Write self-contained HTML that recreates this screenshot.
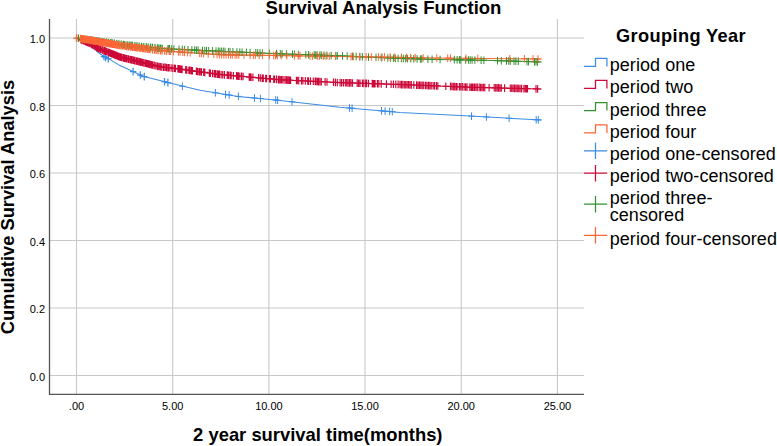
<!DOCTYPE html>
<html><head><meta charset="utf-8"><style>
html,body{margin:0;padding:0;background:#fff;}
body{width:777px;height:446px;overflow:hidden;}
svg{display:block;font-family:"Liberation Sans",sans-serif;}
text{fill:#000;}
</style></head><body>
<svg width="777" height="446" viewBox="0 0 777 446">
<line x1="49" y1="375.5" x2="584" y2="375.5" stroke="#c8c8c8" stroke-width="1.1"/>
<line x1="49" y1="308.0" x2="584" y2="308.0" stroke="#c8c8c8" stroke-width="1.1"/>
<line x1="49" y1="240.5" x2="584" y2="240.5" stroke="#c8c8c8" stroke-width="1.1"/>
<line x1="49" y1="173.0" x2="584" y2="173.0" stroke="#c8c8c8" stroke-width="1.1"/>
<line x1="49" y1="105.5" x2="584" y2="105.5" stroke="#c8c8c8" stroke-width="1.1"/>
<line x1="49" y1="38.0" x2="584" y2="38.0" stroke="#c8c8c8" stroke-width="1.1"/>
<line x1="76.5" y1="19" x2="76.5" y2="394" stroke="#c8c8c8" stroke-width="1.1"/>
<line x1="172.7" y1="19" x2="172.7" y2="394" stroke="#c8c8c8" stroke-width="1.1"/>
<line x1="268.9" y1="19" x2="268.9" y2="394" stroke="#c8c8c8" stroke-width="1.1"/>
<line x1="365.0" y1="19" x2="365.0" y2="394" stroke="#c8c8c8" stroke-width="1.1"/>
<line x1="461.2" y1="19" x2="461.2" y2="394" stroke="#c8c8c8" stroke-width="1.1"/>
<line x1="557.4" y1="19" x2="557.4" y2="394" stroke="#c8c8c8" stroke-width="1.1"/>
<line x1="49.5" y1="19" x2="49.5" y2="394.9" stroke="#555555" stroke-width="1.3"/>
<line x1="49" y1="394.3" x2="584" y2="394.3" stroke="#555555" stroke-width="1.3"/>
<text x="45" y="380.9" font-size="11" font-weight="normal" text-anchor="end" >0.0</text>
<text x="45" y="313.4" font-size="11" font-weight="normal" text-anchor="end" >0.2</text>
<text x="45" y="245.9" font-size="11" font-weight="normal" text-anchor="end" >0.4</text>
<text x="45" y="178.4" font-size="11" font-weight="normal" text-anchor="end" >0.6</text>
<text x="45" y="110.9" font-size="11" font-weight="normal" text-anchor="end" >0.8</text>
<text x="45" y="43.4" font-size="11" font-weight="normal" text-anchor="end" >1.0</text>
<text x="76.5" y="409.6" font-size="11" font-weight="normal" text-anchor="middle" >.00</text>
<text x="172.7" y="409.6" font-size="11" font-weight="normal" text-anchor="middle" >5.00</text>
<text x="268.9" y="409.6" font-size="11" font-weight="normal" text-anchor="middle" >10.00</text>
<text x="365.0" y="409.6" font-size="11" font-weight="normal" text-anchor="middle" >15.00</text>
<text x="461.2" y="409.6" font-size="11" font-weight="normal" text-anchor="middle" >20.00</text>
<text x="557.4" y="409.6" font-size="11" font-weight="normal" text-anchor="middle" >25.00</text>
<text x="383.5" y="14" font-size="18.5" font-weight="bold" text-anchor="middle" >Survival Analysis Function</text>
<text x="317.8" y="441" font-size="18.4" font-weight="bold" text-anchor="middle" >2 year survival time(months)</text>
<text x="13.5" y="207" font-size="18.3" font-weight="bold" text-anchor="middle" transform="rotate(-90 13.5 207)">Cumulative Survival Analysis</text>
<path d="M100.8 56.5h6.4M102.4 57.4h6.4M105.1 58.7h6.4M129.9 71.6h6.4M137.1 75.0h6.4M141.1 76.6h6.4M161.3 81.7h6.4M164.7 82.6h6.4" stroke="#3b8ce4" stroke-width="1.25" fill="none"/><path d="M179.2 86.2h6.4M212.2 92.8h6.4M222.3 94.5h6.4M226.0 95.0h6.4M235.2 96.4h6.4M251.3 98.0h6.4M257.2 98.5h6.4M272.5 100.0h6.4M274.4 100.2h6.4M288.8 101.8h6.4M346.3 108.0h6.4M348.9 108.2h6.4M378.3 110.8h6.4M381.9 111.1h6.4M386.4 111.5h6.4M389.1 111.7h6.4M468.3 116.2h6.4M483.2 117.0h6.4M505.9 118.3h6.4M533.0 119.8h6.4M535.1 119.9h6.4" stroke="#3b8ce4" stroke-width="1.0" fill="none"/>
<path d="M77.8 39.8h6.4M78.7 40.1h6.4M80.2 40.7h6.4M81.6 41.3h6.4M82.6 41.7h6.4M83.8 42.1h6.4M85.0 42.6h6.4M86.3 43.1h6.4M87.7 43.8h6.4M88.6 44.4h6.4M89.5 44.9h6.4M90.9 45.8h6.4M92.0 46.5h6.4M93.4 47.4h6.4M94.3 47.9h6.4M95.4 48.5h6.4M96.8 49.0h6.4M97.8 49.4h6.4M99.3 50.0h6.4M100.8 50.6h6.4M101.7 50.9h6.4M102.5 51.3h6.4M103.8 51.8h6.4M105.3 52.4h6.4M106.4 52.8h6.4M107.4 53.2h6.4M108.5 53.7h6.4M109.4 54.0h6.4M110.4 54.4h6.4M111.5 54.9h6.4M112.7 55.4h6.4M113.8 55.8h6.4M114.8 56.2h6.4M115.8 56.6h6.4M116.9 57.0h6.4M118.0 57.3h6.4M118.8 57.5h6.4M120.3 57.9h6.4M121.5 58.2h6.4M122.8 58.5h6.4M123.8 58.7h6.4M125.3 59.1h6.4M126.8 59.5h6.4M127.7 59.7h6.4M128.8 59.9h6.4M130.2 60.3h6.4M131.5 60.6h6.4M133.0 61.0h6.4M134.2 61.3h6.4M135.6 61.6h6.4M136.9 61.9h6.4M138.0 62.2h6.4M139.3 62.5h6.4M140.7 62.9h6.4M142.2 63.2h6.4M143.4 63.5h6.4M144.7 63.8h6.4M145.5 64.0h6.4M146.5 64.3h6.4M146.8 64.4h6.4M148.2 64.7h6.4M149.4 65.0h6.4M151.0 65.4h6.4M152.7 65.8h6.4M154.3 66.2h6.4M155.7 66.5h6.4M157.1 66.8h6.4M158.7 67.0h6.4M160.4 67.2h6.4M161.9 67.3h6.4M163.3 67.5h6.4M164.8 67.7h6.4M165.9 67.8h6.4" stroke="#cc0838" stroke-width="1.25" fill="none"/><path d="M167.9 68.0h6.4M169.6 68.2h6.4M171.3 68.3h6.4M172.2 68.5h6.4M174.7 68.8h6.4M175.8 68.9h6.4M176.9 69.1h6.4M178.0 69.2h6.4M178.9 69.4h6.4M182.5 69.9h6.4M183.6 70.0h6.4M185.7 70.3h6.4M186.8 70.4h6.4M188.1 70.6h6.4M189.2 70.8h6.4M193.2 71.3h6.4M194.3 71.5h6.4M195.8 71.7h6.4M196.9 71.8h6.4M198.2 72.0h6.4M200.5 72.3h6.4M201.6 72.4h6.4M206.1 73.0h6.4M207.2 73.2h6.4M209.4 73.5h6.4M211.1 73.7h6.4M212.3 73.9h6.4M213.9 74.1h6.4M215.1 74.3h6.4M216.2 74.4h6.4M217.9 74.6h6.4M219.5 74.7h6.4M221.2 74.9h6.4M224.0 75.1h6.4M225.2 75.2h6.4M226.8 75.4h6.4M228.0 75.5h6.4M230.2 75.7h6.4M233.3 75.9h6.4M234.2 76.0h6.4M235.2 76.1h6.4M236.6 76.2h6.4M238.4 76.4h6.4M239.9 76.5h6.4M246.0 77.0h6.4M246.9 77.1h6.4M247.9 77.2h6.4M249.7 77.4h6.4M255.4 77.8h6.4M257.1 78.0h6.4M259.0 78.2h6.4M260.1 78.3h6.4M262.5 78.5h6.4M263.4 78.5h6.4M266.2 78.8h6.4M267.2 78.9h6.4M270.5 79.2h6.4M271.4 79.2h6.4M273.3 79.4h6.4M275.2 79.6h6.4M276.1 79.6h6.4M277.5 79.7h6.4M278.5 79.8h6.4M279.9 79.8h6.4M281.8 79.9h6.4M283.2 80.0h6.4M284.1 80.1h6.4M285.5 80.1h6.4M286.5 80.2h6.4M287.4 80.2h6.4M293.2 80.5h6.4M294.1 80.5h6.4M295.5 80.6h6.4M298.3 80.7h6.4M299.7 80.8h6.4M302.1 80.9h6.4M304.5 81.0h6.4M305.4 81.1h6.4M307.3 81.2h6.4M310.1 81.3h6.4M312.0 81.4h6.4M312.9 81.4h6.4M314.3 81.5h6.4M315.3 81.6h6.4M316.7 81.6h6.4M318.1 81.7h6.4M321.9 81.9h6.4M323.8 82.0h6.4M330.3 82.3h6.4M332.2 82.4h6.4M334.1 82.5h6.4M336.9 82.6h6.4M338.4 82.7h6.4M340.2 82.7h6.4M342.1 82.8h6.4M343.5 82.8h6.4M344.9 82.9h6.4M346.4 82.9h6.4M347.8 82.9h6.4M349.3 83.0h6.4M354.0 83.1h6.4M355.4 83.2h6.4M356.8 83.2h6.4M359.2 83.3h6.4M360.6 83.4h6.4M362.5 83.4h6.4M363.4 83.4h6.4M365.3 83.5h6.4M369.0 83.6h6.4M370.0 83.7h6.4M370.9 83.7h6.4M371.9 83.7h6.4M374.2 83.8h6.4M375.6 83.8h6.4M378.0 83.9h6.4M383.2 84.1h6.4M387.9 84.2h6.4M390.2 84.3h6.4M392.6 84.4h6.4M394.9 84.4h6.4M396.8 84.5h6.4M398.2 84.6h6.4M399.6 84.6h6.4M401.1 84.7h6.4M402.5 84.7h6.4M403.9 84.8h6.4M405.3 84.8h6.4M406.7 84.9h6.4M408.1 84.9h6.4M410.6 85.0h6.4M413.4 85.1h6.4M414.8 85.2h6.4M416.2 85.2h6.4M417.6 85.3h6.4M419.0 85.4h6.4M420.5 85.4h6.4M422.3 85.5h6.4M423.7 85.5h6.4M425.2 85.6h6.4M426.6 85.6h6.4M428.0 85.7h6.4M429.9 85.8h6.4M431.3 85.8h6.4M433.2 85.9h6.4M434.6 86.0h6.4M442.6 86.3h6.4M447.3 86.4h6.4M448.7 86.5h6.4M450.1 86.6h6.4M451.5 86.6h6.4M452.9 86.7h6.4M453.9 86.7h6.4M456.2 86.8h6.4M457.6 86.8h6.4M459.1 86.9h6.4M460.9 87.0h6.4M462.4 87.0h6.4M463.8 87.1h6.4M466.6 87.2h6.4M468.0 87.2h6.4M468.9 87.3h6.4M469.9 87.3h6.4M471.3 87.3h6.4M472.7 87.3h6.4M474.1 87.4h6.4M476.0 87.4h6.4M477.4 87.5h6.4M478.8 87.5h6.4M480.2 87.5h6.4M481.6 87.6h6.4M485.9 87.7h6.4M491.0 87.8h6.4M492.5 87.9h6.4M493.9 87.9h6.4M495.3 87.9h6.4M496.7 88.0h6.4M498.1 88.0h6.4M501.4 88.1h6.4M507.1 88.3h6.4M508.5 88.3h6.4M509.9 88.3h6.4M511.3 88.4h6.4M512.7 88.4h6.4M514.1 88.4h6.4M515.5 88.5h6.4M516.9 88.5h6.4M518.4 88.6h6.4M520.7 88.6h6.4M522.1 88.7h6.4M523.3 88.7h6.4M524.3 88.7h6.4M532.8 88.9h6.4M534.4 89.0h6.4" stroke="#cc0838" stroke-width="1.15" fill="none"/>
<path d="M75.2 38.3h6.4M77.8 38.7h6.4M79.5 38.9h6.4M81.5 39.2h6.4M83.4 39.5h6.4M85.5 39.8h6.4M87.7 40.1h6.4M89.1 40.3h6.4M90.5 40.5h6.4M93.0 40.9h6.4M94.7 41.1h6.4M96.3 41.3h6.4M98.9 41.7h6.4M100.9 42.0h6.4M103.3 42.3h6.4M105.3 42.6h6.4M107.5 42.9h6.4M109.0 43.1h6.4M111.2 43.4h6.4M113.6 43.8h6.4M115.7 44.0h6.4M118.0 44.3h6.4M120.2 44.6h6.4M121.6 44.7h6.4M124.0 45.0h6.4M126.0 45.2h6.4M127.8 45.4h6.4M129.2 45.5h6.4M131.7 45.8h6.4M133.7 46.0h6.4M135.9 46.2h6.4M138.4 46.5h6.4M140.6 46.7h6.4M143.1 47.0h6.4M145.0 47.2h6.4M147.4 47.4h6.4M149.3 47.6h6.4M151.8 47.9h6.4M154.3 48.1h6.4M155.8 48.3h6.4M157.4 48.4h6.4M159.0 48.5h6.4M164.8 48.8h6.4M166.2 48.9h6.4" stroke="#33922f" stroke-width="1.25" fill="none"/><path d="M168.5 49.0h6.4M170.7 49.1h6.4M175.8 49.3h6.4M179.1 49.5h6.4M181.4 49.6h6.4M184.8 49.8h6.4M188.7 49.9h6.4M191.5 50.1h6.4M193.2 50.2h6.4M194.9 50.2h6.4M199.3 50.5h6.4M201.6 50.6h6.4M203.3 50.6h6.4M205.5 50.8h6.4M209.4 50.9h6.4M212.8 51.1h6.4M215.1 51.2h6.4M216.7 51.3h6.4M218.4 51.4h6.4M220.1 51.4h6.4M221.8 51.5h6.4M225.2 51.6h6.4M226.8 51.7h6.4M229.7 51.8h6.4M233.7 52.0h6.4M236.6 52.1h6.4M238.9 52.2h6.4M243.2 52.4h6.4M246.9 52.6h6.4M252.6 52.8h6.4M254.5 52.9h6.4M256.8 53.0h6.4M259.2 53.1h6.4M266.2 53.4h6.4M273.3 53.7h6.4M277.1 53.8h6.4M278.9 53.9h6.4M283.2 54.0h6.4M289.3 54.2h6.4M291.3 54.3h6.4M295.5 54.5h6.4M302.6 54.7h6.4M305.4 54.8h6.4M311.0 55.0h6.4M312.5 55.0h6.4M313.9 55.1h6.4M316.7 55.1h6.4M318.1 55.2h6.4M320.9 55.3h6.4M323.8 55.4h6.4M328.0 55.5h6.4M332.7 55.7h6.4M334.1 55.7h6.4M339.3 55.9h6.4M344.0 56.1h6.4M349.2 56.3h6.4M353.0 56.5h6.4M356.8 56.7h6.4M359.2 56.8h6.4M365.3 57.1h6.4M372.8 57.4h6.4M378.0 57.7h6.4M384.6 58.0h6.4M387.4 58.1h6.4M390.2 58.2h6.4M392.1 58.3h6.4M394.9 58.4h6.4M398.2 58.5h6.4M400.1 58.5h6.4M402.5 58.6h6.4M404.4 58.6h6.4M407.7 58.7h6.4M410.6 58.8h6.4M413.9 58.9h6.4M417.2 59.0h6.4M418.6 59.0h6.4M424.7 59.2h6.4M428.9 59.3h6.4M436.9 59.5h6.4M451.1 59.7h6.4M453.9 59.8h6.4M456.2 59.8h6.4M457.6 59.9h6.4M462.4 60.0h6.4M465.2 60.0h6.4M467.0 60.0h6.4M468.9 60.1h6.4M471.7 60.1h6.4M477.9 60.2h6.4M480.7 60.3h6.4M494.3 60.7h6.4M498.1 60.8h6.4M503.3 60.9h6.4M505.6 61.0h6.4M507.1 61.1h6.4M510.8 61.2h6.4M512.7 61.2h6.4M515.1 61.3h6.4M523.8 61.6h6.4M525.3 61.6h6.4M531.3 61.8h6.4M532.8 61.8h6.4M534.3 61.9h6.4" stroke="#33922f" stroke-width="1.0" fill="none"/>
<path d="M73.3 38.0h6.4M77.2 38.6h6.4M78.5 38.8h6.4M79.9 39.0h6.4M80.6 39.1h6.4M81.4 39.3h6.4M82.7 39.5h6.4M83.9 39.6h6.4M85.0 39.8h6.4M86.0 40.0h6.4M87.1 40.2h6.4M88.2 40.4h6.4M89.3 40.6h6.4M90.1 40.7h6.4M91.1 40.9h6.4M92.1 41.1h6.4M93.3 41.3h6.4M94.7 41.5h6.4M96.0 41.8h6.4M97.1 42.0h6.4M98.1 42.1h6.4M99.0 42.3h6.4M99.8 42.4h6.4M100.5 42.6h6.4M101.5 42.8h6.4M102.5 42.9h6.4M103.5 43.1h6.4M104.8 43.3h6.4M105.8 43.5h6.4M106.9 43.7h6.4M107.8 43.9h6.4M108.5 44.0h6.4M109.5 44.2h6.4M110.3 44.3h6.4M111.4 44.5h6.4M112.7 44.8h6.4M113.9 45.0h6.4M114.7 45.1h6.4M114.8 45.1h6.4M116.3 45.4h6.4M117.8 45.6h6.4M119.4 45.8h6.4M120.9 46.0h6.4M122.5 46.2h6.4M123.6 46.4h6.4M125.3 46.6h6.4M127.0 46.8h6.4M128.0 46.9h6.4M129.5 47.1h6.4M131.0 47.3h6.4M132.3 47.5h6.4M133.6 47.6h6.4M134.9 47.8h6.4M136.5 48.0h6.4M137.8 48.2h6.4M139.4 48.4h6.4M140.6 48.5h6.4M142.2 48.7h6.4M143.8 48.9h6.4M145.0 49.1h6.4M146.4 49.3h6.4M146.8 49.3h6.4M149.2 49.6h6.4M151.3 49.9h6.4M153.0 50.1h6.4M154.9 50.4h6.4M157.2 50.6h6.4M158.9 50.7h6.4M161.5 50.9h6.4M163.4 51.0h6.4M166.0 51.2h6.4" stroke="#ff6535" stroke-width="1.25" fill="none"/><path d="M167.4 51.3h6.4M170.2 51.5h6.4M175.2 51.9h6.4M176.9 52.0h6.4M179.7 52.2h6.4M181.4 52.3h6.4M184.2 52.5h6.4M187.0 52.7h6.4M196.5 53.3h6.4M198.2 53.4h6.4M200.5 53.6h6.4M205.0 53.9h6.4M210.6 54.3h6.4M213.9 54.5h6.4M216.2 54.7h6.4M218.4 54.7h6.4M220.7 54.8h6.4M222.9 54.8h6.4M225.2 54.8h6.4M227.4 54.9h6.4M229.1 54.9h6.4M231.9 54.9h6.4M233.6 55.0h6.4M235.6 55.0h6.4M240.8 55.1h6.4M246.9 55.2h6.4M250.2 55.2h6.4M252.1 55.2h6.4M255.9 55.3h6.4M259.2 55.3h6.4M266.2 55.4h6.4M270.5 55.5h6.4M272.3 55.5h6.4M274.2 55.6h6.4M278.0 55.6h6.4M283.6 55.7h6.4M291.2 55.8h6.4M295.0 55.9h6.4M296.9 55.9h6.4M306.8 56.0h6.4M309.2 56.1h6.4M313.9 56.1h6.4M316.2 56.1h6.4M320.0 56.2h6.4M322.8 56.2h6.4M326.1 56.3h6.4M332.2 56.3h6.4M347.8 56.6h6.4M350.2 56.6h6.4M356.3 56.7h6.4M362.9 56.8h6.4M368.1 56.9h6.4M375.2 57.0h6.4M378.9 57.1h6.4M381.3 57.1h6.4M386.9 57.2h6.4M391.6 57.3h6.4M398.2 57.4h6.4M403.4 57.5h6.4M407.2 57.6h6.4M412.0 57.7h6.4M420.0 57.9h6.4M433.6 58.1h6.4M444.5 58.2h6.4M447.3 58.2h6.4M462.8 58.3h6.4M474.6 58.4h6.4M506.6 58.7h6.4M521.2 58.8h6.4M529.8 58.9h6.4M534.8 59.0h6.4" stroke="#ff6535" stroke-width="1.0" fill="none"/>
<polyline points="76.5,38.0 90.0,44.6 98.0,52.3 104.3,56.7 110.0,59.6 120.0,65.6 133.0,71.6 143.0,76.3 164.0,81.6 182.0,86.1 200.0,90.2 220.0,93.6 238.0,96.4 280.0,100.4 340.0,107.2 400.0,112.4 470.0,116.1 541.6,120.1" fill="none" stroke="#3b8ce4" stroke-width="1.05" stroke-linejoin="round"/>
<polyline points="76.5,38.0 90.0,43.3 98.0,48.2 120.0,57.0 142.0,62.4 160.0,66.8 175.0,68.4 220.0,74.5 280.0,79.7 340.0,82.6 400.0,84.5 470.0,87.2 490.0,87.7 541.6,89.1" fill="none" stroke="#cc0838" stroke-width="1.05" stroke-linejoin="round"/>
<polyline points="76.5,38.0 90.0,40.0 120.0,44.2 160.0,48.4 220.0,51.3 280.0,53.8 300.0,54.5 340.0,55.8 365.0,56.9 395.0,58.3 435.0,59.4 485.0,60.3 541.6,62.0" fill="none" stroke="#33922f" stroke-width="1.05" stroke-linejoin="round"/>
<polyline points="76.5,38.0 90.0,40.1 120.0,45.5 160.0,50.6 220.0,54.7 280.0,55.6 300.0,55.9 340.0,56.4 395.0,57.3 435.0,58.1 485.0,58.5 541.6,59.0" fill="none" stroke="#ff6535" stroke-width="1.05" stroke-linejoin="round"/>
<path d="M104.0 52.7v7.6M105.6 53.6v7.6M108.3 54.9v7.6M133.1 67.8v7.6M140.3 71.2v7.6M144.3 72.8v7.6M164.5 77.9v7.6M167.9 78.8v7.6" stroke="#3b8ce4" stroke-width="1.25" fill="none"/><path d="M182.4 82.4v7.6M215.4 89.0v7.6M225.5 90.7v7.6M229.2 91.2v7.6M238.4 92.6v7.6M254.5 94.2v7.6M260.4 94.7v7.6M275.7 96.2v7.6M277.6 96.4v7.6M292.0 98.0v7.6M349.5 104.2v7.6M352.1 104.4v7.6M381.5 107.0v7.6M385.1 107.3v7.6M389.6 107.7v7.6M392.3 107.9v7.6M471.5 112.4v7.6M486.4 113.2v7.6M509.1 114.5v7.6M536.2 116.0v7.6M538.3 116.1v7.6" stroke="#3b8ce4" stroke-width="1.0" fill="none"/>
<path d="M81.0 36.0v7.6M81.9 36.3v7.6M83.4 36.9v7.6M84.8 37.5v7.6M85.8 37.9v7.6M87.0 38.3v7.6M88.2 38.8v7.6M89.5 39.3v7.6M90.9 40.0v7.6M91.8 40.6v7.6M92.7 41.1v7.6M94.1 42.0v7.6M95.2 42.7v7.6M96.6 43.6v7.6M97.5 44.1v7.6M98.6 44.7v7.6M100.0 45.2v7.6M101.0 45.6v7.6M102.5 46.2v7.6M104.0 46.8v7.6M104.9 47.1v7.6M105.7 47.5v7.6M107.0 48.0v7.6M108.5 48.6v7.6M109.6 49.0v7.6M110.6 49.4v7.6M111.7 49.9v7.6M112.6 50.2v7.6M113.6 50.6v7.6M114.7 51.1v7.6M115.9 51.6v7.6M117.0 52.0v7.6M118.0 52.4v7.6M119.0 52.8v7.6M120.1 53.2v7.6M121.2 53.5v7.6M122.0 53.7v7.6M123.5 54.1v7.6M124.7 54.4v7.6M126.0 54.7v7.6M127.0 54.9v7.6M128.5 55.3v7.6M130.0 55.7v7.6M130.9 55.9v7.6M132.0 56.1v7.6M133.4 56.5v7.6M134.7 56.8v7.6M136.2 57.2v7.6M137.4 57.5v7.6M138.8 57.8v7.6M140.1 58.1v7.6M141.2 58.4v7.6M142.5 58.7v7.6M143.9 59.1v7.6M145.4 59.4v7.6M146.6 59.7v7.6M147.8 60.0v7.6M148.7 60.2v7.6M149.7 60.5v7.6M150.0 60.6v7.6M151.4 60.9v7.6M152.6 61.2v7.6M154.2 61.6v7.6M155.9 62.0v7.6M157.5 62.4v7.6M158.9 62.7v7.6M160.3 63.0v7.6M161.8 63.2v7.6M163.6 63.4v7.6M165.1 63.5v7.6M166.5 63.7v7.6M168.0 63.9v7.6M169.1 64.0v7.6" stroke="#cc0838" stroke-width="1.25" fill="none"/><path d="M171.1 64.2v7.6M172.8 64.4v7.6M174.5 64.5v7.6M175.4 64.7v7.6M177.9 65.0v7.6M179.0 65.1v7.6M180.1 65.3v7.6M181.2 65.4v7.6M182.1 65.6v7.6M185.7 66.1v7.6M186.8 66.2v7.6M188.9 66.5v7.6M190.0 66.6v7.6M191.3 66.8v7.6M192.4 67.0v7.6M196.4 67.5v7.6M197.5 67.7v7.6M199.0 67.9v7.6M200.1 68.0v7.6M201.4 68.2v7.6M203.7 68.5v7.6M204.8 68.6v7.6M209.3 69.2v7.6M210.4 69.4v7.6M212.6 69.7v7.6M214.3 69.9v7.6M215.5 70.1v7.6M217.1 70.3v7.6M218.3 70.5v7.6M219.4 70.6v7.6M221.1 70.8v7.6M222.7 70.9v7.6M224.4 71.1v7.6M227.2 71.3v7.6M228.4 71.4v7.6M230.0 71.6v7.6M231.2 71.7v7.6M233.4 71.9v7.6M236.5 72.1v7.6M237.4 72.2v7.6M238.4 72.3v7.6M239.8 72.4v7.6M241.6 72.6v7.6M243.1 72.7v7.6M249.2 73.2v7.6M250.1 73.3v7.6M251.1 73.4v7.6M252.9 73.6v7.6M258.6 74.0v7.6M260.3 74.2v7.6M262.2 74.4v7.6M263.3 74.5v7.6M265.7 74.7v7.6M266.6 74.7v7.6M269.4 75.0v7.6M270.4 75.1v7.6M273.7 75.4v7.6M274.6 75.4v7.6M276.5 75.6v7.6M278.4 75.8v7.6M279.3 75.8v7.6M280.7 75.9v7.6M281.7 76.0v7.6M283.1 76.0v7.6M285.0 76.1v7.6M286.4 76.2v7.6M287.3 76.3v7.6M288.7 76.3v7.6M289.7 76.4v7.6M290.6 76.4v7.6M296.4 76.7v7.6M297.3 76.7v7.6M298.7 76.8v7.6M301.5 76.9v7.6M302.9 77.0v7.6M305.3 77.1v7.6M307.7 77.2v7.6M308.6 77.3v7.6M310.5 77.4v7.6M313.3 77.5v7.6M315.2 77.6v7.6M316.1 77.6v7.6M317.5 77.7v7.6M318.5 77.8v7.6M319.9 77.8v7.6M321.3 77.9v7.6M325.1 78.1v7.6M327.0 78.2v7.6M333.5 78.5v7.6M335.4 78.6v7.6M337.3 78.7v7.6M340.1 78.8v7.6M341.6 78.9v7.6M343.4 78.9v7.6M345.3 79.0v7.6M346.7 79.0v7.6M348.1 79.1v7.6M349.6 79.1v7.6M351.0 79.1v7.6M352.5 79.2v7.6M357.2 79.3v7.6M358.6 79.4v7.6M360.0 79.4v7.6M362.4 79.5v7.6M363.8 79.6v7.6M365.7 79.6v7.6M366.6 79.6v7.6M368.5 79.7v7.6M372.2 79.8v7.6M373.2 79.9v7.6M374.1 79.9v7.6M375.1 79.9v7.6M377.4 80.0v7.6M378.8 80.0v7.6M381.2 80.1v7.6M386.4 80.3v7.6M391.1 80.4v7.6M393.4 80.5v7.6M395.8 80.6v7.6M398.1 80.6v7.6M400.0 80.7v7.6M401.4 80.8v7.6M402.8 80.8v7.6M404.3 80.9v7.6M405.7 80.9v7.6M407.1 81.0v7.6M408.5 81.0v7.6M409.9 81.1v7.6M411.3 81.1v7.6M413.8 81.2v7.6M416.6 81.3v7.6M418.0 81.4v7.6M419.4 81.4v7.6M420.8 81.5v7.6M422.2 81.6v7.6M423.7 81.6v7.6M425.5 81.7v7.6M426.9 81.7v7.6M428.4 81.8v7.6M429.8 81.8v7.6M431.2 81.9v7.6M433.1 82.0v7.6M434.5 82.0v7.6M436.4 82.1v7.6M437.8 82.2v7.6M445.8 82.5v7.6M450.5 82.6v7.6M451.9 82.7v7.6M453.3 82.8v7.6M454.7 82.8v7.6M456.1 82.9v7.6M457.1 82.9v7.6M459.4 83.0v7.6M460.8 83.0v7.6M462.3 83.1v7.6M464.1 83.2v7.6M465.6 83.2v7.6M467.0 83.3v7.6M469.8 83.4v7.6M471.2 83.4v7.6M472.1 83.5v7.6M473.1 83.5v7.6M474.5 83.5v7.6M475.9 83.5v7.6M477.3 83.6v7.6M479.2 83.6v7.6M480.6 83.7v7.6M482.0 83.7v7.6M483.4 83.7v7.6M484.8 83.8v7.6M489.1 83.9v7.6M494.2 84.0v7.6M495.7 84.1v7.6M497.1 84.1v7.6M498.5 84.1v7.6M499.9 84.2v7.6M501.3 84.2v7.6M504.6 84.3v7.6M510.3 84.5v7.6M511.7 84.5v7.6M513.1 84.5v7.6M514.5 84.6v7.6M515.9 84.6v7.6M517.3 84.6v7.6M518.7 84.7v7.6M520.1 84.7v7.6M521.6 84.8v7.6M523.9 84.8v7.6M525.3 84.9v7.6M526.5 84.9v7.6M527.5 84.9v7.6M536.0 85.1v7.6M537.6 85.2v7.6" stroke="#cc0838" stroke-width="1.15" fill="none"/>
<path d="M78.4 34.5v7.6M81.0 34.9v7.6M82.7 35.1v7.6M84.7 35.4v7.6M86.6 35.7v7.6M88.7 36.0v7.6M90.9 36.3v7.6M92.3 36.5v7.6M93.8 36.7v7.6M96.2 37.1v7.6M97.9 37.3v7.6M99.5 37.5v7.6M102.1 37.9v7.6M104.1 38.2v7.6M106.5 38.5v7.6M108.5 38.8v7.6M110.7 39.1v7.6M112.2 39.3v7.6M114.4 39.6v7.6M116.8 40.0v7.6M118.9 40.2v7.6M121.2 40.5v7.6M123.4 40.8v7.6M124.8 40.9v7.6M127.2 41.2v7.6M129.2 41.4v7.6M131.0 41.6v7.6M132.4 41.7v7.6M134.9 42.0v7.6M136.9 42.2v7.6M139.1 42.4v7.6M141.6 42.7v7.6M143.8 42.9v7.6M146.3 43.2v7.6M148.2 43.4v7.6M150.6 43.6v7.6M152.5 43.8v7.6M155.0 44.1v7.6M157.5 44.3v7.6M159.0 44.5v7.6M160.6 44.6v7.6M162.2 44.7v7.6M168.0 45.0v7.6M169.4 45.1v7.6" stroke="#33922f" stroke-width="1.25" fill="none"/><path d="M171.7 45.2v7.6M173.9 45.3v7.6M179.0 45.5v7.6M182.3 45.7v7.6M184.6 45.8v7.6M188.0 46.0v7.6M191.9 46.1v7.6M194.7 46.3v7.6M196.4 46.4v7.6M198.1 46.4v7.6M202.5 46.7v7.6M204.8 46.8v7.6M206.5 46.8v7.6M208.7 47.0v7.6M212.6 47.1v7.6M216.0 47.3v7.6M218.3 47.4v7.6M219.9 47.5v7.6M221.6 47.6v7.6M223.3 47.6v7.6M225.0 47.7v7.6M228.4 47.9v7.6M230.0 47.9v7.6M232.9 48.0v7.6M236.9 48.2v7.6M239.8 48.3v7.6M242.1 48.4v7.6M246.4 48.6v7.6M250.1 48.8v7.6M255.8 49.0v7.6M257.7 49.1v7.6M260.0 49.2v7.6M262.4 49.3v7.6M269.4 49.6v7.6M276.5 49.9v7.6M280.3 50.0v7.6M282.1 50.1v7.6M286.4 50.2v7.6M292.5 50.4v7.6M294.5 50.5v7.6M298.7 50.7v7.6M305.8 50.9v7.6M308.6 51.0v7.6M314.2 51.2v7.6M315.7 51.2v7.6M317.1 51.3v7.6M319.9 51.3v7.6M321.3 51.4v7.6M324.1 51.5v7.6M327.0 51.6v7.6M331.2 51.7v7.6M335.9 51.9v7.6M337.3 51.9v7.6M342.5 52.1v7.6M347.2 52.3v7.6M352.4 52.5v7.6M356.2 52.7v7.6M360.0 52.9v7.6M362.4 53.0v7.6M368.5 53.3v7.6M376.0 53.6v7.6M381.2 53.9v7.6M387.8 54.2v7.6M390.6 54.3v7.6M393.4 54.4v7.6M395.3 54.5v7.6M398.1 54.6v7.6M401.4 54.7v7.6M403.3 54.7v7.6M405.7 54.8v7.6M407.6 54.8v7.6M410.9 54.9v7.6M413.8 55.0v7.6M417.1 55.1v7.6M420.4 55.2v7.6M421.8 55.2v7.6M427.9 55.4v7.6M432.1 55.5v7.6M440.1 55.7v7.6M454.3 55.9v7.6M457.1 56.0v7.6M459.4 56.0v7.6M460.8 56.1v7.6M465.6 56.2v7.6M468.4 56.2v7.6M470.2 56.2v7.6M472.1 56.3v7.6M474.9 56.3v7.6M481.1 56.4v7.6M483.9 56.5v7.6M497.5 56.9v7.6M501.3 57.0v7.6M506.5 57.1v7.6M508.8 57.2v7.6M510.3 57.3v7.6M514.0 57.4v7.6M515.9 57.4v7.6M518.3 57.5v7.6M527.0 57.8v7.6M528.5 57.8v7.6M534.5 58.0v7.6M536.0 58.0v7.6M537.5 58.1v7.6" stroke="#33922f" stroke-width="1.0" fill="none"/>
<path d="M76.5 34.2v7.6M80.4 34.8v7.6M81.7 35.0v7.6M83.1 35.2v7.6M83.8 35.3v7.6M84.6 35.5v7.6M85.9 35.7v7.6M87.1 35.8v7.6M88.2 36.0v7.6M89.2 36.2v7.6M90.3 36.4v7.6M91.4 36.6v7.6M92.5 36.8v7.6M93.3 36.9v7.6M94.3 37.1v7.6M95.3 37.3v7.6M96.5 37.5v7.6M97.9 37.7v7.6M99.2 38.0v7.6M100.3 38.2v7.6M101.3 38.3v7.6M102.2 38.5v7.6M103.0 38.6v7.6M103.7 38.8v7.6M104.8 39.0v7.6M105.7 39.1v7.6M106.7 39.3v7.6M108.0 39.5v7.6M109.0 39.7v7.6M110.1 39.9v7.6M111.0 40.1v7.6M111.8 40.2v7.6M112.7 40.4v7.6M113.5 40.5v7.6M114.6 40.7v7.6M115.9 41.0v7.6M117.1 41.2v7.6M117.9 41.3v7.6M118.0 41.3v7.6M119.5 41.6v7.6M121.0 41.8v7.6M122.6 42.0v7.6M124.1 42.2v7.6M125.7 42.4v7.6M126.8 42.6v7.6M128.5 42.8v7.6M130.2 43.0v7.6M131.2 43.1v7.6M132.7 43.3v7.6M134.2 43.5v7.6M135.5 43.7v7.6M136.8 43.8v7.6M138.1 44.0v7.6M139.7 44.2v7.6M141.0 44.4v7.6M142.6 44.6v7.6M143.8 44.7v7.6M145.3 44.9v7.6M147.0 45.1v7.6M148.2 45.3v7.6M149.6 45.5v7.6M150.0 45.5v7.6M152.4 45.8v7.6M154.5 46.1v7.6M156.2 46.3v7.6M158.1 46.6v7.6M160.4 46.8v7.6M162.1 46.9v7.6M164.7 47.1v7.6M166.6 47.2v7.6M169.2 47.4v7.6" stroke="#ff6535" stroke-width="1.25" fill="none"/><path d="M170.6 47.5v7.6M173.4 47.7v7.6M178.4 48.1v7.6M180.1 48.2v7.6M182.9 48.4v7.6M184.6 48.5v7.6M187.4 48.7v7.6M190.2 48.9v7.6M199.7 49.5v7.6M201.4 49.6v7.6M203.7 49.8v7.6M208.2 50.1v7.6M213.8 50.5v7.6M217.1 50.7v7.6M219.4 50.9v7.6M221.6 50.9v7.6M223.9 51.0v7.6M226.1 51.0v7.6M228.4 51.0v7.6M230.6 51.1v7.6M232.3 51.1v7.6M235.1 51.1v7.6M236.8 51.2v7.6M238.8 51.2v7.6M244.0 51.3v7.6M250.1 51.4v7.6M253.4 51.4v7.6M255.3 51.4v7.6M259.1 51.5v7.6M262.4 51.5v7.6M269.4 51.6v7.6M273.7 51.7v7.6M275.5 51.7v7.6M277.4 51.8v7.6M281.2 51.8v7.6M286.8 51.9v7.6M294.4 52.0v7.6M298.2 52.1v7.6M300.1 52.1v7.6M310.0 52.2v7.6M312.4 52.3v7.6M317.1 52.3v7.6M319.4 52.3v7.6M323.2 52.4v7.6M326.0 52.4v7.6M329.3 52.5v7.6M335.4 52.5v7.6M351.0 52.8v7.6M353.4 52.8v7.6M359.5 52.9v7.6M366.1 53.0v7.6M371.3 53.1v7.6M378.4 53.2v7.6M382.1 53.3v7.6M384.5 53.3v7.6M390.1 53.4v7.6M394.8 53.5v7.6M401.4 53.6v7.6M406.6 53.7v7.6M410.4 53.8v7.6M415.2 53.9v7.6M423.2 54.1v7.6M436.8 54.3v7.6M447.7 54.4v7.6M450.5 54.4v7.6M466.0 54.5v7.6M477.8 54.6v7.6M509.8 54.9v7.6M524.4 55.0v7.6M533.0 55.1v7.6M538.0 55.2v7.6" stroke="#ff6535" stroke-width="1.0" fill="none"/>
<rect x="584" y="19" width="193" height="300" fill="#fff"/>
<text x="616" y="41.5" font-size="18.2" font-weight="bold" text-anchor="start" letter-spacing="0.38">Grouping Year</text>
<text x="609.7" y="71.4" font-size="18" font-weight="normal" text-anchor="start" letter-spacing="0.06">period one</text>
<path d="M584 66.4H595.5V58.4H606.9V66.4" fill="none" stroke="#3b8ce4" stroke-width="1.25"/>
<text x="609.7" y="93.4" font-size="18" font-weight="normal" text-anchor="start" letter-spacing="0.06">period two</text>
<path d="M584 88.4H595.5V80.4H606.9V88.4" fill="none" stroke="#cc0838" stroke-width="1.25"/>
<text x="609.7" y="115.5" font-size="18" font-weight="normal" text-anchor="start" letter-spacing="0.06">period three</text>
<path d="M584 110.5H595.5V102.5H606.9V110.5" fill="none" stroke="#33922f" stroke-width="1.25"/>
<text x="609.7" y="137.9" font-size="18" font-weight="normal" text-anchor="start" letter-spacing="0.06">period four</text>
<path d="M584 132.9H595.5V124.9H606.9V132.9" fill="none" stroke="#ff6535" stroke-width="1.25"/>
<text x="609.7" y="159.7" font-size="18" font-weight="normal" text-anchor="start" letter-spacing="0.06">period one-censored</text>
<path d="M584 150.9H607.2M595.5 142.6V159.1" fill="none" stroke="#3b8ce4" stroke-width="1.25"/>
<text x="609.7" y="182.0" font-size="18" font-weight="normal" text-anchor="start" letter-spacing="0.06">period two-censored</text>
<path d="M584 173.2H607.2M595.5 164.9V181.4" fill="none" stroke="#cc0838" stroke-width="1.25"/>
<text x="609.7" y="204.2" font-size="18" font-weight="normal" text-anchor="start" letter-spacing="0.06">period three-</text>
<path d="M584 204.2H607.2M595.5 195.9V212.4" fill="none" stroke="#33922f" stroke-width="1.25"/>
<text x="609.7" y="244.6" font-size="18" font-weight="normal" text-anchor="start" letter-spacing="0.06">period four-censored</text>
<path d="M584 235.3H607.2M595.5 227.0V243.5" fill="none" stroke="#ff6535" stroke-width="1.25"/>
<text x="609.7" y="221.3" font-size="18" font-weight="normal" text-anchor="start" letter-spacing="0.06">censored</text>
</svg>
</body></html>
